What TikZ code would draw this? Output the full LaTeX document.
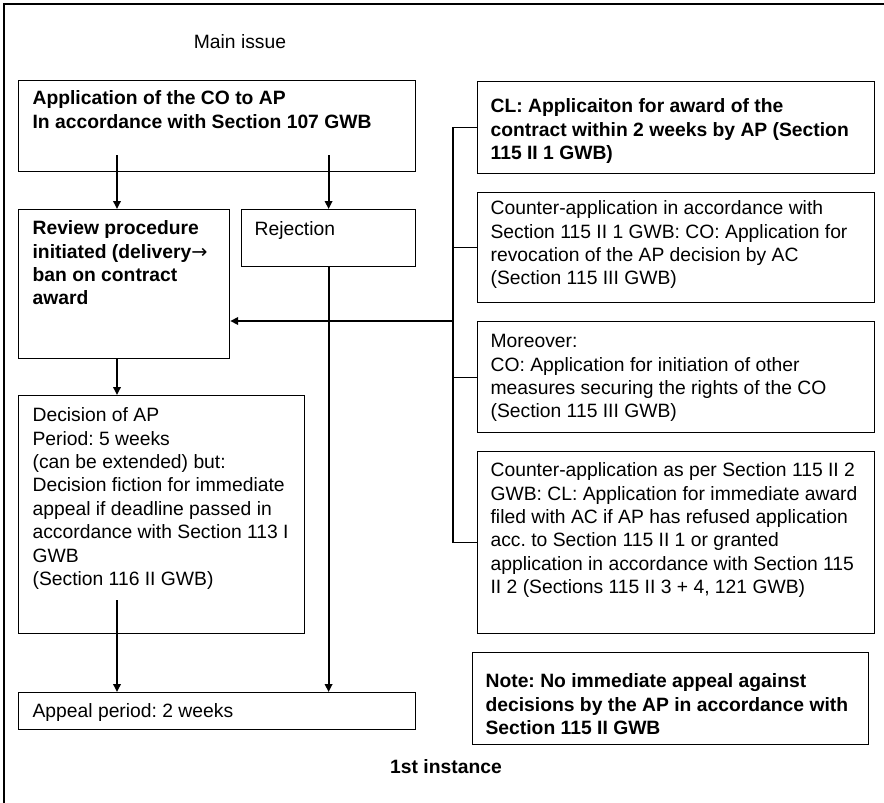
\documentclass[tikz,border=0pt]{standalone}
\usepackage{fontspec}
\setmainfont{Liberation Sans}
\newfontfamily\arrowfont{DejaVu Sans}
\usetikzlibrary{arrows.meta}
\frenchspacing

% box text: width, height, first baseline, left pad, text
\newcommand{\boxtext}[5]{\parbox[t][#2pt][t]{#1pt}{\raggedright\leftskip=#4pt\rule{0pt}{#3pt}#5}}

\tikzset{
  box/.style={draw, line width=1.2pt, anchor=north west, inner sep=0pt},
  wire/.style={line width=1.8pt},
}

\begin{document}
\begin{tikzpicture}[x=1pt, y=-1pt, >={Triangle[length=8pt,width=7.5pt]},
  font=\fontsize{19.3pt}{23.4pt}\selectfont]
\useasboundingbox (0,0) rectangle (884,803);
\draw[line width=1.5pt] (4,4) rectangle (920,840);

\node[anchor=base] (mainlbl) at (240,48) {Main issue};

% left column
\node[box] (app) at (18,80) {\boxtext{397}{91}{24}{14}{\bfseries Application of the CO to AP\\In accordance with Section 107 GWB}};
\node[box] (review) at (18,209) {\boxtext{211}{149}{25}{14}{\bfseries Review procedure\\initiated (delivery{\arrowfont\mdseries →}\\ban on contract\\award}};
\node[box] (reject) at (241,209) {\boxtext{174}{57}{26}{13}{Rejection}};
\node[box] (decision) at (18,395) {\boxtext{286}{238}{26}{14}{Decision of AP\\Period: 5 weeks\\(can be extended) but:\\Decision fiction for immediate\\appeal if deadline passed in\\accordance with Section 113 I\\GWB\\(Section 116 II GWB)}};
\node[box] (appeal) at (18,692) {\boxtext{397}{37}{25}{14}{Appeal period: 2 weeks}};

% right column
\node[box] (claim) at (477,81) {\boxtext{397}{92}{31}{13}{\bfseries CL: Applicaiton for award of the\\contract within 2 weeks by AP (Section\\115 II 1 GWB)}};
\node[box] (counter) at (477,192) {\boxtext{397}{110}{22}{13}{Counter-application in accordance with\\Section 115 II 1 GWB: CO: Application for\\revocation of the AP decision by AC\\(Section 115 III GWB)}};
\node[box] (moreover) at (477,321) {\boxtext{397}{111}{26}{13}{Moreover:\\CO: Application for initiation of other\\measures securing the rights of the CO\\(Section 115 III GWB)}};
\node[box] (immediate) at (477,451) {\boxtext{397}{182}{25}{13}{Counter-application as per Section 115 II 2\\GWB: CL: Application for immediate award\\filed with AC if AP has refused application\\acc. to Section 115 II 1 or granted\\application in accordance with Section 115\\II 2 (Sections 115 II 3 + 4, 121 GWB)}};
\node[box] (note) at (472,652) {\boxtext{396}{92}{35}{13}{\bfseries Note: No immediate appeal against\\decisions by the AP in accordance with\\Section 115 II GWB}};

\node[anchor=base, font=\fontsize{19.3pt}{23.4pt}\selectfont\bfseries] (instlbl) at (446,773) {1st instance};

% arrows
\coordinate (a1) at ([xshift=99pt,yshift=17pt]app.south west);
\coordinate (a2) at ([yshift=17pt]app.south -| reject.north);
\draw[wire,->] (a1) -- (a1 |- review.north);
\draw[wire,->] (a2) -- (reject.north);
\draw[wire,->] (review.south -| a1) -- (decision.north -| a1);
\draw[wire,->] ([yshift=34pt]decision.south -| a1) -- (appeal.north -| a1);
\draw[wire,->] (reject.south) -- (appeal.north -| reject.south);

% bus on the right
\draw[line width=1.2pt] (claim.west) -- ++(-24,0) coordinate (bus) |- (immediate.west);
\draw[line width=1.2pt] (counter.west) -- (counter.west -| bus);
\draw[line width=1.2pt] (moreover.west) -- (moreover.west -| bus);
\draw[wire,->] (moreover.north west -| bus) -- (moreover.north west -| review.east);
\end{tikzpicture}
\end{document}
